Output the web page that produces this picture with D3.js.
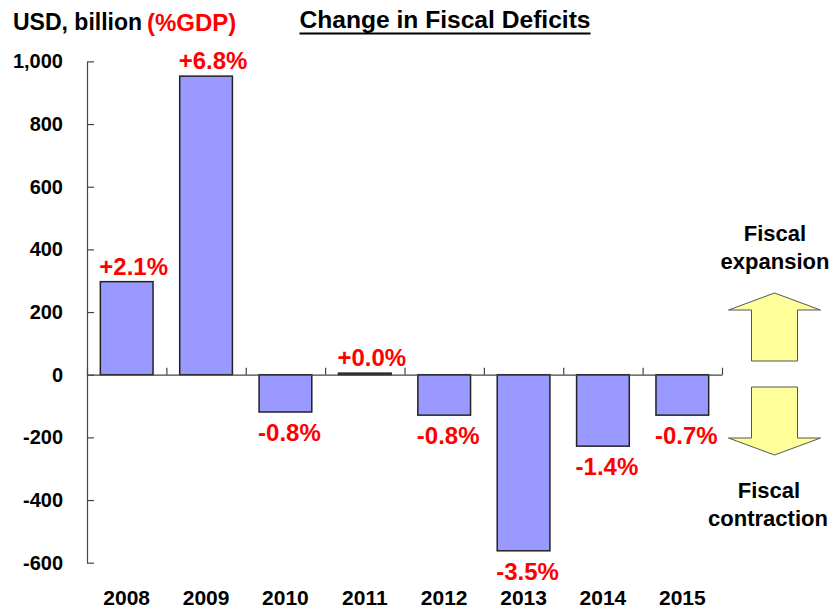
<!DOCTYPE html>
<html>
<head>
<meta charset="utf-8">
<script src="https://cdn.jsdelivr.net/npm/d3@7"></script>
<style>
  body { margin: 0; background: #fff; }
  text { font-family: Arial, "Liberation Sans", sans-serif; font-weight: bold; }
</style>
</head>
<body>
<svg id="chart" width="834" height="612"></svg>
<script>
// data
const years = ["2008", "2009", "2010", "2011", "2012", "2013", "2014", "2015"];
const deficitChange = [297, 953, -119, 5, -129, -562, -228, -129];   // USD bn
const pctGdp = ["+2.1%", "+6.8%", "-0.8%", "+0.0%", "-0.8%", "-3.5%", "-1.4%", "-0.7%"];
const yTicks = [-600, -400, -200, 0, 200, 400, 600, 800, 1000];

const svg = d3.select("#chart");

const x = d3.scaleBand().domain(years).range([87, 722])
  .paddingInner(0.336).paddingOuter(0.168);
const y = d3.scaleLinear().domain([-600, 1000]).range([562.7, 61.4]);

// plain hyphen for negatives, like the original
const fmt = d => d3.format(",")(d).replace("\u2212", "-");

// y axis, ticks pointing into the plot
const yAxis = svg.append("g")
  .attr("transform", "translate(87,0)")
  .call(d3.axisLeft(y).tickValues(yTicks).tickFormat(fmt)
    .tickSizeInner(-7).tickSizeOuter(0).tickPadding(24));
yAxis.selectAll("path, line").attr("stroke", "#444").attr("stroke-width", 1.2);
yAxis.selectAll("text").attr("font-size", 20).attr("fill", "#000")
  .attr("font-family", "Arial, 'Liberation Sans', sans-serif").attr("font-weight", "bold");

// bars
svg.append("g").selectAll("rect")
  .data(deficitChange)
  .join("rect")
  .attr("x", (d, i) => x(years[i]))
  .attr("width", x.bandwidth())
  .attr("y", d => y(Math.max(d, 0)))
  .attr("height", d => Math.abs(y(d) - y(0)))
  .attr("fill", "#9999ff")
  .attr("stroke", "#222")
  .attr("stroke-width", 1.5);

// zero line with category boundary ticks
const xb = d3.scaleLinear().domain([0, years.length]).range([87, 722]);
const xAxis = svg.append("g")
  .attr("transform", `translate(0,${y(0)})`)
  .call(d3.axisTop(xb).ticks(years.length).tickFormat("").tickSizeInner(7).tickSizeOuter(0));
xAxis.selectAll("path, line").attr("stroke", "#444").attr("stroke-width", 1.2);

// category labels
svg.append("g").selectAll("text")
  .data(years)
  .join("text")
  .attr("x", d => x(d) + x.bandwidth() / 2)
  .attr("y", 605)
  .attr("text-anchor", "middle")
  .attr("font-size", 21)
  .text(d => d);

// %GDP labels, left aligned to bar
svg.append("g").selectAll("text")
  .data(deficitChange)
  .join("text")
  .attr("x", (d, i) => x(years[i]) - 1)
  .attr("y", d => d >= 0 ? y(d) - 7 : y(d) + 29)
  .attr("font-size", 24)
  .attr("fill", "#ff0000")
  .text((d, i) => pctGdp[i]);

// headers
svg.append("text").attr("x", 13).attr("y", 30).attr("font-size", 23).text("USD, billion");
svg.append("text").attr("x", 147).attr("y", 31).attr("font-size", 24).attr("fill", "#ff0000").text("(%GDP)");
const title = svg.append("text").attr("x", 445).attr("y", 28).attr("text-anchor", "middle")
  .attr("font-size", 24.6).text("Change in Fiscal Deficits");
const tb = title.node().getBBox();
svg.append("line").attr("x1", tb.x).attr("x2", tb.x + tb.width)
  .attr("y1", 33.5).attr("y2", 33.5).attr("stroke", "#000").attr("stroke-width", 2);

// fiscal expansion / contraction arrows
const cx = 774.5;
const arrow = (dir, base, end) => {
  // dir: -1 up, +1 down ; base = shaft start, end = tip
  const headBase = end - dir * 17;
  return [[cx - 23, base], [cx + 23, base], [cx + 23, headBase], [cx + 46, headBase],
          [cx, end], [cx - 46, headBase], [cx - 23, headBase]];
};
svg.append("polygon").attr("points", arrow(-1, 361, 293).join(" "))
  .attr("fill", "#ffff99").attr("stroke", "#555").attr("stroke-width", 1);
svg.append("polygon").attr("points", arrow(1, 387, 455).join(" "))
  .attr("fill", "#ffff99").attr("stroke", "#555").attr("stroke-width", 1);

const side = [["Fiscal", 241, 775], ["expansion", 269, 775], ["Fiscal", 498, 769], ["contraction", 526, 768]];
svg.append("g").selectAll("text")
  .data(side)
  .join("text")
  .attr("x", d => d[2])
  .attr("y", d => d[1])
  .attr("text-anchor", "middle")
  .attr("font-size", 22)
  .text(d => d[0]);
</script>
</body>
</html>
